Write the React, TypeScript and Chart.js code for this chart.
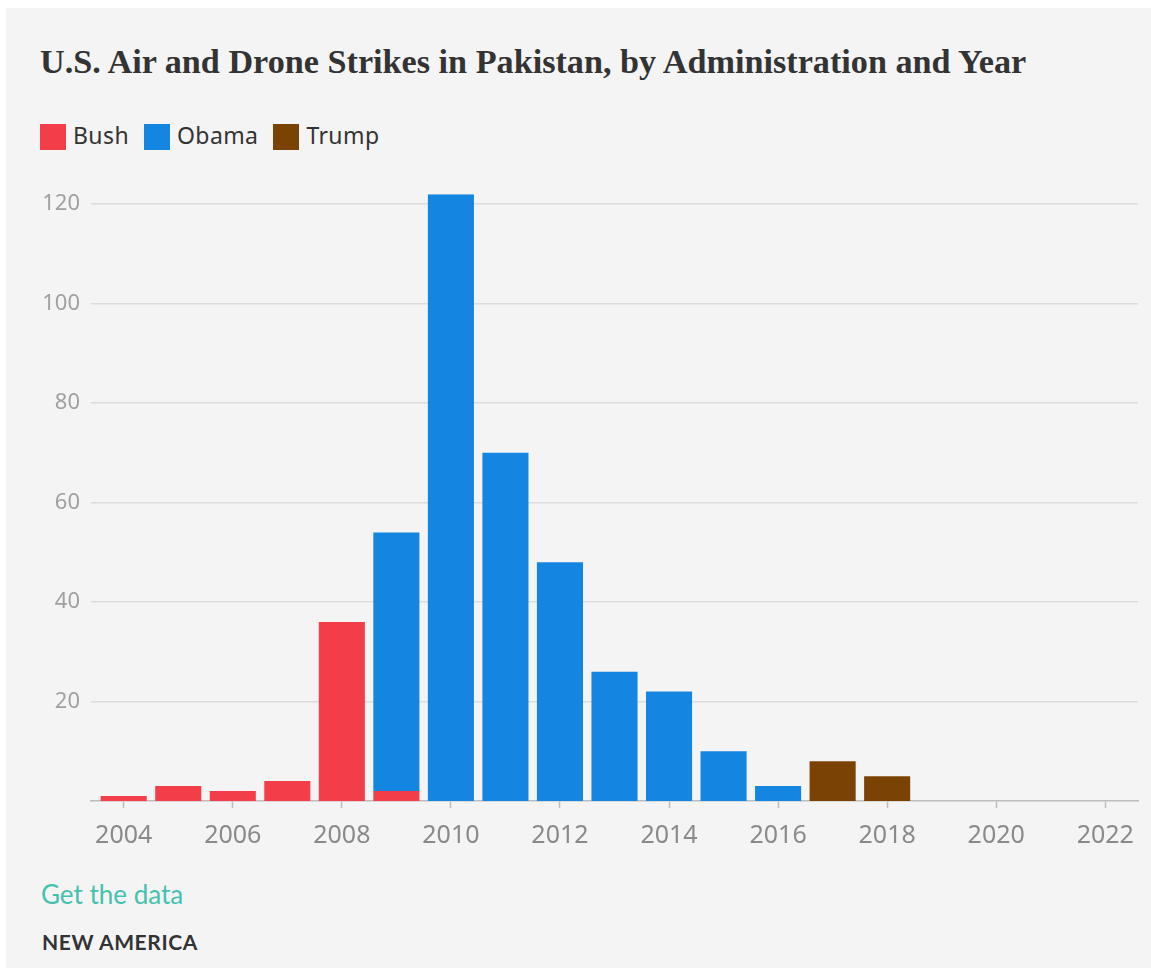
import React, { useEffect, useRef } from "react";
import { Chart, registerables } from "chart.js";

Chart.register(...registerables);

const years = [2004, 2005, 2006, 2007, 2008, 2009, 2010, 2011, 2012, 2013, 2014, 2015, 2016, 2017, 2018, 2019, 2020, 2021, 2022];
const bushStrikes = [1, 3, 2, 4, 36, 2, null, null, null, null, null, null, null, null, null, null, null, null, null];
const obamaStrikes = [null, null, null, null, null, 52, 122, 70, 48, 26, 22, 10, 3, null, null, null, null, null, null];
const trumpStrikes = [null, null, null, null, null, null, null, null, null, null, null, null, null, 8, 5, null, null, null, null];
const xTickValues = [2004, 2006, 2008, 2010, 2012, 2014, 2016, 2018, 2020, 2022];
const yTickValues = [20, 40, 60, 80, 100, 120];

const series = [
  { label: "Bush", values: bushStrikes, color: "#F33E4A" },
  { label: "Obama", values: obamaStrikes, color: "#1485E0" },
  { label: "Trump", values: trumpStrikes, color: "#7A4303" },
];

const SANS = "'Noto Sans', Lato, sans-serif";
const LATO = "Lato, 'Noto Sans', sans-serif";

export default function App() {
  const canvasRef = useRef<HTMLCanvasElement | null>(null);

  useEffect(() => {
    const canvas = canvasRef.current;
    if (!canvas) return;
    const chart = new Chart(canvas, {
      type: "bar",
      data: {
        datasets: series.map((s) => ({
          label: s.label,
          data: years
            .map((yr, i) => ({ x: yr, y: s.values[i] }))
            .filter((p) => p.y !== null) as any,
          backgroundColor: s.color,
          borderWidth: 0,
          categoryPercentage: 1,
          barPercentage: 0.845,
        })),
      },
      options: {
        animation: false,
        responsive: false,
        devicePixelRatio: 1,
        layout: { padding: { left: 0, right: 13, top: 23, bottom: 0 } },
        plugins: {
          legend: { display: false },
          title: { display: false },
          tooltip: { enabled: false },
        },
        scales: {
          x: {
            type: "linear",
            stacked: true,
            offset: false,
            min: 2003.4,
            max: 2022.6,
            afterBuildTicks: (scale: any) => {
              scale.ticks = xTickValues.map((v) => ({ value: v }));
            },
            afterFit: (scale: any) => {
              scale.height = 69;
            },
            grid: {
              offset: false,
              drawOnChartArea: false,
              drawTicks: true,
              tickLength: 7,
              tickColor: "#bdbdbd",
              tickWidth: 1.5,
            },
            border: { display: true, color: "#bdbdbd", width: 1.5 },
            ticks: {
              autoSkip: false,
              maxRotation: 0,
              padding: 13,
              color: "#8a8a8a",
              font: { family: SANS, size: 25 },
              callback: (v: any) => String(v),
            },
          },
          y: {
            stacked: true,
            min: 0,
            max: 122,
            afterBuildTicks: (scale: any) => {
              scale.ticks = yTickValues.map((v) => ({ value: v }));
            },
            afterFit: (scale: any) => {
              scale.width = 85;
            },
            grid: {
              color: "#dcdcdc",
              lineWidth: 1.5,
              drawTicks: false,
            },
            border: { display: false },
            ticks: {
              padding: 11,
              color: "#a0a0a0",
              font: { family: SANS, size: 22 },
              callback: (v: any) => String(v),
            },
          },
        },
      } as any,
    });
    return () => chart.destroy();
  }, []);

  return (
    <div
      style={{
        position: "absolute",
        left: 6,
        top: 8,
        right: 0,
        height: 960,
        background: "#f4f4f4",
        overflow: "hidden",
      }}
    >
      <div
        style={{
          position: "absolute",
          left: 34,
          top: 37,
          fontFamily: "'Liberation Serif', 'Times New Roman', serif",
          fontWeight: 700,
          fontSize: 34.2,
          lineHeight: "34px",
          color: "#333333",
          whiteSpace: "nowrap",
        }}
      >
        U.S. Air and Drone Strikes in Pakistan, by Administration and Year
      </div>
      <div
        style={{
          position: "absolute",
          left: 34,
          top: 116,
          display: "flex",
          alignItems: "center",
          fontFamily: SANS,
          fontSize: 23,
          lineHeight: "26px",
          color: "#333333",
        }}
      >
        {series.map((s) => (
          <div key={s.label} style={{ display: "flex", alignItems: "center", marginRight: 15 }}>
            <span
              style={{
                display: "inline-block",
                width: 26,
                height: 26,
                background: s.color,
                marginRight: 7,
              }}
            />
            <span style={{ position: "relative", top: -2, letterSpacing: 0.4 }}>{s.label}</span>
          </div>
        ))}
      </div>
      <canvas
        ref={canvasRef}
        width={1145}
        height={700}
        style={{ position: "absolute", left: 0, top: 162, width: 1145, height: 700 }}
      />
      <div
        style={{
          position: "absolute",
          left: 35,
          top: 873,
          fontFamily: LATO,
          fontSize: 26,
          lineHeight: "26px",
          color: "#45C1B0",
        }}
      >
        Get the data
      </div>
      <div
        style={{
          position: "absolute",
          left: 36,
          top: 923,
          fontFamily: LATO,
          fontWeight: 700,
          fontSize: 21,
          lineHeight: "21px",
          letterSpacing: 0.6,
          color: "#333333",
        }}
      >
        NEW AMERICA
      </div>
    </div>
  );
}
